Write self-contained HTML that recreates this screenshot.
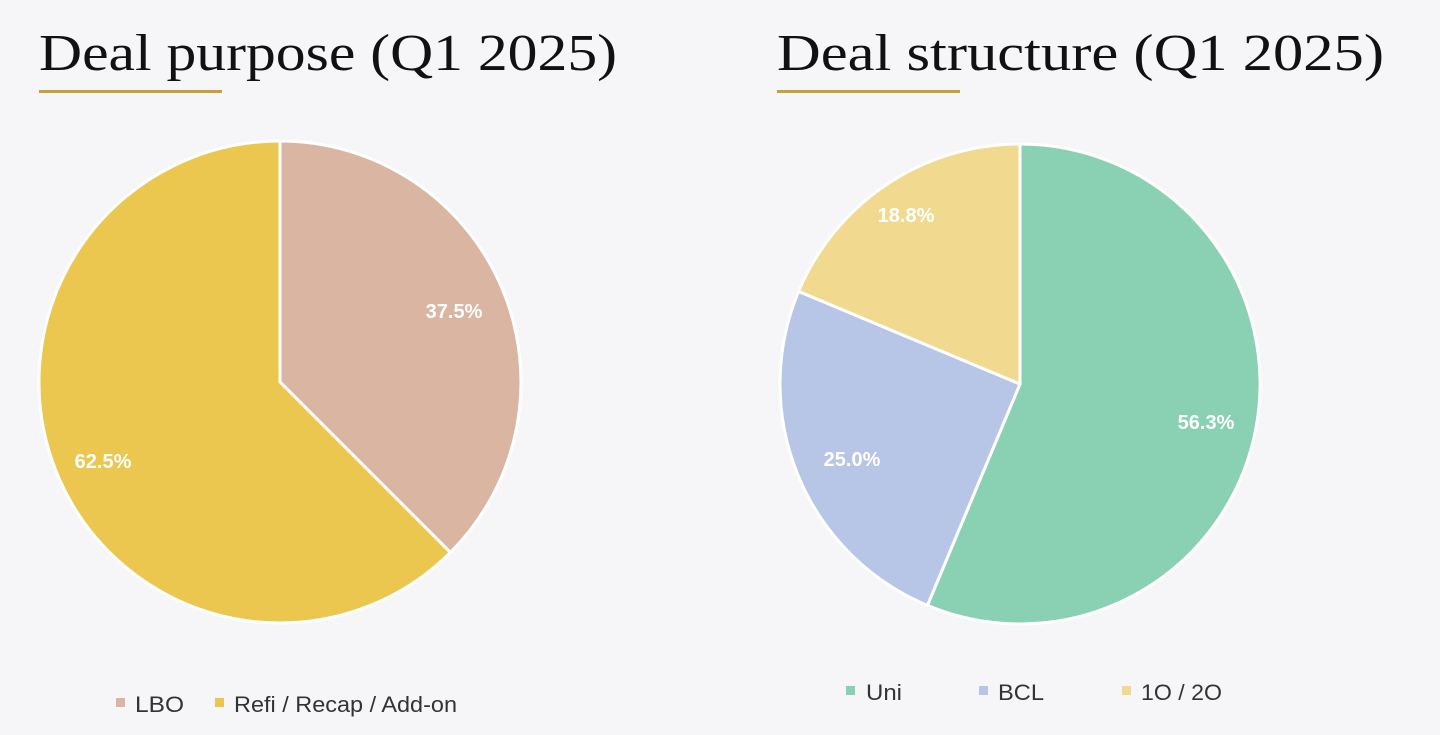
<!DOCTYPE html>
<html><head><meta charset="utf-8"><style>
html,body{margin:0;padding:0;background:#f6f6f8;}
svg{display:block}
</style></head><body>
<svg width="1440" height="735" viewBox="0 0 1440 735" xmlns="http://www.w3.org/2000/svg">
<rect width="1440" height="735" fill="#f6f6f8"/>
<g font-family="Liberation Serif, serif" fill="#111" font-size="52">
<text x="39" y="70" textLength="578" lengthAdjust="spacingAndGlyphs">Deal purpose (Q1 2025)</text>
<text x="777" y="70" textLength="607" lengthAdjust="spacingAndGlyphs">Deal structure (Q1 2025)</text>
</g>
<rect x="39" y="90" width="183" height="3" fill="#c9a035"/>
<rect x="777" y="90" width="183" height="3" fill="#c9a035"/>
<g stroke="#fff" stroke-width="3" stroke-linejoin="round">
<path d="M280,382 L280,141 A241,241 0 0 1 450.4,552.4 Z" fill="#d9b5a2"/>
<path d="M280,382 L450.4,552.4 A241,241 0 1 1 280,141 Z" fill="#ecc74f"/>
</g>
<g stroke="#fff" stroke-width="3" stroke-linejoin="round">
<path d="M1020,384 L1020,144 A240,240 0 1 1 927.4,605.4 Z" fill="#8ad1b4"/>
<path d="M1020,384 L927.4,605.4 A240,240 0 0 1 798.6,291.4 Z" fill="#b7c6e6"/>
<path d="M1020,384 L798.6,291.4 A240,240 0 0 1 1020,144 Z" fill="#f1da8f"/>
</g>
<g font-family="Liberation Sans, sans-serif" font-weight="bold" font-size="20" fill="#fff" text-anchor="middle">
<text x="454" y="318">37.5%</text>
<text x="103" y="468">62.5%</text>
<text x="1206" y="429">56.3%</text>
<text x="852" y="466">25.0%</text>
<text x="906" y="222">18.8%</text>
</g>
<g font-family="Liberation Sans, sans-serif" font-size="22" fill="#333">
<rect x="116" y="698" width="9" height="9" fill="#d9b5a2"/>
<text x="135" y="712" textLength="49" lengthAdjust="spacingAndGlyphs">LBO</text>
<rect x="215" y="698" width="9" height="9" fill="#ecc74f"/>
<text x="234" y="712" textLength="223" lengthAdjust="spacingAndGlyphs">Refi / Recap / Add-on</text>
<rect x="846" y="686" width="9" height="9" fill="#8ad1b4"/>
<text x="866" y="700" textLength="36" lengthAdjust="spacingAndGlyphs">Uni</text>
<rect x="979" y="686" width="9" height="9" fill="#b7c6e6"/>
<text x="998" y="700" textLength="46" lengthAdjust="spacingAndGlyphs">BCL</text>
<rect x="1122" y="686" width="9" height="9" fill="#f1da8f"/>
<text x="1141" y="700" textLength="81" lengthAdjust="spacingAndGlyphs">1O / 2O</text>
</g>
</svg>
</body></html>
